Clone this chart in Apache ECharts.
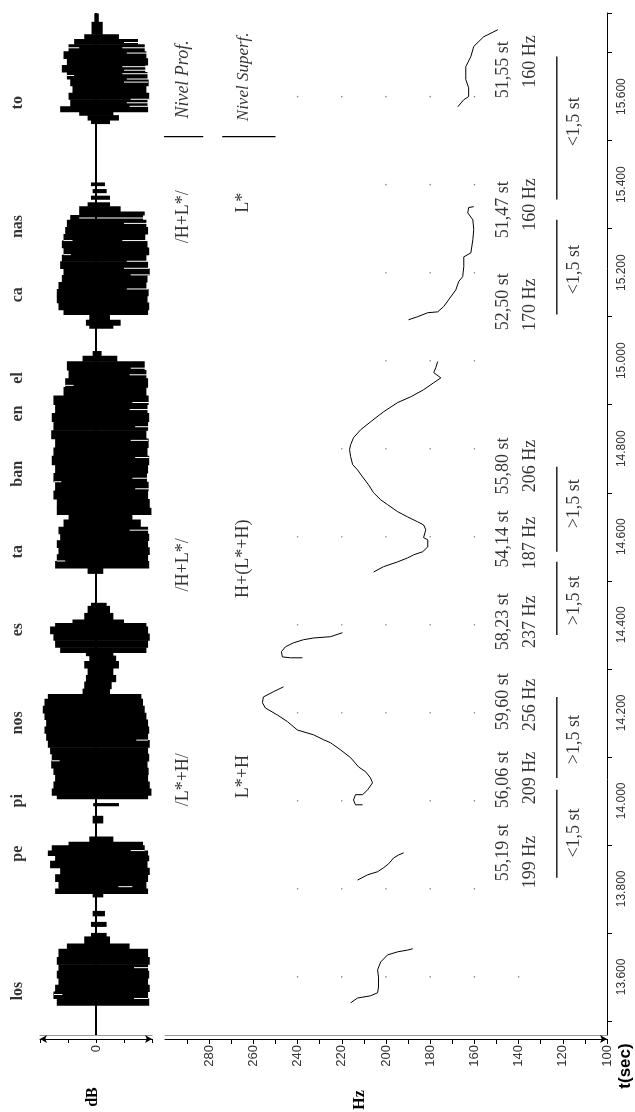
<!DOCTYPE html>
<html><head><meta charset="utf-8">
<script src="https://cdn.jsdelivr.net/npm/echarts@6.0.0/dist/echarts.min.js"></script>
<style>html,body{margin:0;padding:0;background:#fff}#c{width:635px;height:1112px}</style>
</head><body><div id="c"></div>
<script>
// ---------- axis values ----------
const timeLabelValues = [13.6, 13.8, 14.0, 14.2, 14.4, 14.6, 14.8, 15.0, 15.2, 15.4, 15.6];
const timeTickValues = [13.5, 13.7, 13.9, 14.1, 14.3, 14.5, 14.7, 14.9, 15.1, 15.3, 15.5, 15.7, 15.79];
const hzLabelValues = [100, 120, 140, 160, 180, 200, 220, 240, 260, 280];
const hzTickValues = [100, 110, 120, 130, 140, 150, 160, 170, 180, 190, 200, 210, 220, 230, 240, 250, 260, 270, 280, 290];
const ampTickValues = [-1, -0.5, 0, 0.5, 1];
const ampLabelValues = [0];

// ---------- syllables ----------
const syllables = ['los', 'pe', 'pi', 'nos', 'es', 'ta', 'ban', 'en', 'el', 'ca', 'nas', 'to'];
const syllableTimes = [13.568, 13.880, 14.000, 14.177, 14.389, 14.566, 14.743, 14.880, 14.961, 15.150, 15.305, 15.586];

// ---------- waveform envelope bands: [tStart, tEnd, low, high] ----------
const waveBands = [
  [15.770, 15.789, -0.03, 0.05], [15.742, 15.770, -0.08, 0.12],
  [15.731, 15.742, -0.21, 0.41], [15.719, 15.731, -0.39, 0.75],
  [15.703, 15.719, -0.49, 0.87], [15.687, 15.703, -0.58, 0.90], [15.672, 15.687, -0.52, 0.93],
  [15.656, 15.672, -0.61, 0.88], [15.640, 15.656, -0.52, 0.92], [15.625, 15.640, -0.46, 0.94],
  [15.609, 15.625, -0.42, 0.90], [15.594, 15.609, -0.49, 0.95], [15.578, 15.594, -0.46, 0.92],
  [15.566, 15.578, -0.64, 0.93], [15.558, 15.566, -0.30, 0.31], [15.547, 15.558, -0.15, 0.41],
  [15.539, 15.547, -0.09, 0.25],
  [15.398, 15.405, -0.09, 0.16], [15.382, 15.390, -0.06, 0.19], [15.367, 15.375, -0.09, 0.25],
  [15.351, 15.360, -0.15, 0.25], [15.339, 15.351, -0.30, 0.44],
  [15.331, 15.339, -0.30, 0.87], [15.320, 15.331, -0.46, 0.84], [15.304, 15.320, -0.52, 0.90],
  [15.288, 15.304, -0.55, 0.93], [15.273, 15.288, -0.58, 0.88], [15.257, 15.273, -0.61, 0.92],
  [15.241, 15.257, -0.58, 0.95], [15.226, 15.241, -0.61, 0.90], [15.210, 15.226, -0.64, 0.93],
  [15.195, 15.210, -0.58, 0.96], [15.179, 15.195, -0.61, 0.92], [15.163, 15.179, -0.67, 0.90],
  [15.148, 15.163, -0.70, 0.94], [15.132, 15.148, -0.70, 0.92], [15.116, 15.132, -0.67, 0.95],
  [15.105, 15.116, -0.58, 0.93], [15.093, 15.105, -0.12, 0.25], [15.081, 15.093, -0.18, 0.44],
  [15.074, 15.081, -0.12, 0.31],
  [15.011, 15.022, -0.06, 0.10], [14.999, 15.011, -0.24, 0.38],
  [14.979, 14.999, -0.52, 0.87], [14.960, 14.979, -0.49, 0.90], [14.940, 14.960, -0.55, 0.93],
  [14.921, 14.940, -0.58, 0.90], [14.901, 14.921, -0.76, 0.94], [14.881, 14.901, -0.73, 0.92],
  [14.862, 14.881, -0.79, 0.95], [14.842, 14.862, -0.76, 0.93], [14.823, 14.842, -0.80, 0.90],
  [14.803, 14.823, -0.73, 0.94], [14.784, 14.803, -0.76, 0.92], [14.764, 14.784, -0.79, 0.95],
  [14.745, 14.764, -0.73, 0.93], [14.725, 14.745, -0.76, 0.91], [14.705, 14.725, -0.73, 0.94],
  [14.686, 14.705, -0.76, 0.93], [14.666, 14.686, -0.70, 0.96], [14.651, 14.666, -0.70, 0.99],
  [14.639, 14.651, -0.49, 0.65],
  [14.623, 14.639, -0.58, 0.80], [14.607, 14.623, -0.67, 0.93], [14.592, 14.607, -0.64, 0.95],
  [14.576, 14.592, -0.70, 0.93], [14.560, 14.576, -0.67, 0.96], [14.545, 14.560, -0.70, 0.93],
  [14.529, 14.545, -0.73, 0.95], [14.517, 14.529, -0.15, 0.13],
  [14.443, 14.450, -0.09, 0.19], [14.427, 14.443, -0.15, 0.25], [14.412, 14.427, -0.21, 0.31],
  [14.404, 14.412, -0.42, 0.50],
  [14.396, 14.404, -0.73, 0.90], [14.380, 14.396, -0.82, 0.93], [14.365, 14.380, -0.76, 0.96],
  [14.349, 14.365, -0.73, 0.93], [14.337, 14.349, -0.64, 0.90],
  [14.330, 14.337, -0.18, 0.31], [14.318, 14.330, -0.12, 0.36], [14.302, 14.318, -0.21, 0.41],
  [14.286, 14.302, -0.15, 0.31], [14.271, 14.286, -0.18, 0.36], [14.255, 14.271, -0.21, 0.28],
  [14.243, 14.255, -0.24, 0.25],
  [14.232, 14.243, -0.86, 0.81], [14.216, 14.232, -0.92, 0.84], [14.200, 14.216, -0.95, 0.87],
  [14.185, 14.200, -0.92, 0.90], [14.169, 14.185, -0.89, 0.93], [14.154, 14.169, -0.92, 0.95],
  [14.138, 14.154, -0.89, 0.93], [14.122, 14.138, -0.86, 0.96], [14.107, 14.122, -0.82, 0.93],
  [14.091, 14.107, -0.79, 0.95], [14.075, 14.091, -0.80, 0.92], [14.060, 14.075, -0.76, 0.94],
  [14.044, 14.060, -0.73, 0.93], [14.028, 14.044, -0.76, 0.96], [14.013, 14.028, -0.79, 0.99],
  [14.005, 14.013, -0.70, 0.93], [13.989, 13.995, -0.05, 0.41],
  [13.950, 13.966, -0.06, 0.13], [13.907, 13.919, -0.12, 0.31], [13.899, 13.907, -0.49, 0.84],
  [13.887, 13.899, -0.79, 0.87], [13.876, 13.887, -0.86, 0.93], [13.864, 13.876, -0.73, 0.95],
  [13.848, 13.864, -0.82, 0.92], [13.833, 13.848, -0.64, 0.96], [13.817, 13.833, -0.73, 0.93],
  [13.801, 13.817, -0.67, 0.90], [13.790, 13.801, -0.73, 0.93], [13.782, 13.790, -0.06, 0.13],
  [13.739, 13.750, -0.06, 0.16], [13.715, 13.725, -0.09, 0.19], [13.692, 13.700, -0.09, 0.19],
  [13.676, 13.692, -0.21, 0.25], [13.664, 13.676, -0.52, 0.60],
  [13.645, 13.664, -0.67, 0.93], [13.629, 13.645, -0.70, 0.96], [13.614, 13.629, -0.67, 0.93],
  [13.598, 13.614, -0.70, 0.95], [13.582, 13.598, -0.67, 0.93], [13.567, 13.582, -0.73, 0.96],
  [13.551, 13.567, -0.76, 0.93], [13.536, 13.551, -0.70, 0.95]
];
// white sample gaps inside the waveform: [time, from, to]
const waveGaps = [
  [15.723, 0.50, 0.95], [15.711, 0.47, 0.93], [15.699, 0.55, 0.95], [15.668, 0.47, 0.95],
  [15.660, 0.50, 0.92], [15.652, 0.47, 0.93], [15.640, 0.55, 0.95], [15.633, 0.50, 0.93],
  [15.594, 0.62, 0.95], [15.586, 0.55, 0.95], [15.578, 0.60, 0.93],
  [15.711, -0.50, -0.30], [15.648, -0.52, -0.39],
  [15.324, -0.30, 0.87], [15.312, 0.50, 0.93], [15.273, 0.47, 0.93], [15.226, 0.55, 0.95],
  [15.210, 0.50, 0.95], [15.195, 0.62, 0.96], [15.163, 0.55, 0.93],
  [15.273, -0.58, -0.42], [15.241, -0.58, -0.45],
  [14.983, 0.62, 0.93], [14.968, 0.60, 0.93], [14.905, 0.65, 0.96], [14.889, 0.60, 0.96],
  [14.850, 0.70, 0.96], [14.819, 0.62, 0.93], [14.780, 0.70, 0.95], [14.733, 0.65, 0.95],
  [14.709, 0.70, 0.95], [14.944, -0.55, -0.40], [14.725, -0.75, -0.62],
  [14.615, 0.60, 0.93], [14.545, -0.70, -0.55],
  [14.091, -0.79, -0.65], [14.138, 0.72, 0.93],
  [13.887, 0.62, 0.87], [13.805, 0.40, 0.65],
  [13.621, 0.68, 0.93], [13.551, 0.68, 0.93], [13.560, -0.75, -0.60]
];

// ---------- F0 contours: [Hz, time] ----------
const f0Los = [[216.0,13.541],[212.9,13.552],[207.0,13.557],[203.8,13.564],[203.4,13.577],[203.4,13.600],[203.8,13.616],[202.4,13.634],[199.3,13.650],[194.7,13.657],[190.2,13.661],[187.9,13.664]];
const f0Pe = [[212.9,13.820],[208.3,13.832],[203.8,13.839],[201.1,13.848],[198.8,13.857],[196.6,13.870],[194.3,13.877],[192.0,13.882]];
const f0PiNos = [[210.6,13.991],[213.8,13.991],[214.7,14.002],[213.8,14.014],[210.6,14.014],[208.3,14.025],[206.1,14.041],[207.0,14.052],[209.2,14.066],[212.4,14.077],[216.0,14.098],[220.6,14.116],[225.1,14.132],[228.3,14.139],[232.8,14.150],[240.1,14.161],[244.6,14.180],[249.1,14.195],[254.6,14.211],[255.9,14.223],[255.5,14.236],[250.9,14.248],[246.4,14.259]];
const f0Es = [[237.8,14.325],[243.2,14.325],[246.9,14.327],[247.3,14.339],[245.5,14.350],[241.9,14.359],[237.4,14.366],[232.8,14.370],[225.1,14.373],[219.7,14.382]];
const f0TaBanEnEl = [[205.6,14.520],[201.1,14.532],[194.7,14.543],[190.2,14.552],[187.5,14.559],[183.4,14.566],[181.1,14.577],[181.1,14.593],[183.0,14.598],[182.0,14.616],[183.0,14.627],[185.7,14.634],[190.2,14.645],[194.7,14.657],[199.3,14.673],[202.4,14.684],[205.6,14.700],[207.9,14.718],[210.6,14.736],[212.9,14.752],[215.1,14.764],[216.0,14.782],[216.5,14.798],[216.0,14.809],[214.7,14.825],[211.5,14.843],[207.0,14.861],[201.1,14.884],[194.7,14.905],[188.8,14.918],[183.0,14.934],[178.4,14.950],[175.2,14.961],[178.4,14.973],[177.5,14.984],[176.6,14.998]];
const f0CaNas = [[189.8,15.093],[185.7,15.100],[181.1,15.109],[176.6,15.111],[173.9,15.123],[170.7,15.145],[168.4,15.161],[167.1,15.180],[165.3,15.191],[164.8,15.214],[164.8,15.236],[161.6,15.245],[160.7,15.275],[160.3,15.298],[160.7,15.320],[163.0,15.336],[162.6,15.348],[160.3,15.350]];
const f0To = [[167.5,15.577],[164.8,15.593],[162.6,15.600],[162.6,15.620],[163.9,15.639],[163.9,15.668],[161.6,15.691],[160.3,15.714],[155.8,15.736],[149.4,15.752]];

// ---------- grid dots: [time, Hz list] ----------
const gridDotRows = [
  [15.6, [160, 180, 200, 220, 240]], [15.4, [160, 180, 200]], [15.2, [160, 180, 200]],
  [15.0, [160, 180, 200]], [14.8, [160, 180, 200, 220]], [14.6, [160, 180, 200, 220, 240]],
  [14.4, [160, 180, 200, 220, 240]], [14.2, [160, 180, 200, 220, 240]], [14.0, [160, 180, 220, 240]],
  [13.8, [160, 180, 200, 220, 240]], [13.6, [140, 160, 180, 200, 220, 240]]
];

// ---------- annotations ----------
const stLabels = ['51,55 st', '51,47 st', '52,50 st', '55,80 st', '54,14 st', '58,23 st', '59,60 st', '56,06 st', '55,19 st'];
const stTimes = [15.661, 15.343, 15.134, 14.761, 14.595, 14.407, 14.225, 14.048, 13.882];
const hzValueLabels = ['160 Hz', '160 Hz', '170 Hz', '206 Hz', '187 Hz', '237 Hz', '256 Hz', '209 Hz', '199 Hz'];
const hzValueTimes = [15.680, 15.355, 15.127, 14.761, 14.586, 14.407, 14.218, 14.052, 13.861];
const diffLabels = ['<1,5 st', '<1,5 st', '>1,5 st', '>1,5 st', '>1,5 st', '<1,5 st'];
const diffTimes = [15.543, 15.207, 14.675, 14.455, 14.139, 13.927];
const spanLines = [[15.366, 15.691], [15.105, 15.320], [14.566, 14.759], [14.377, 14.543], [14.052, 14.236], [13.825, 14.025]];
const deepLabels = ['Nivel Prof.', '/H+L*/', '/H+L*/', '/L*+H/'];
const deepTimes = [15.639, 15.327, 14.536, 14.048];
const surfaceLabels = ['Nivel Superf.', 'L*', 'H+(L*+H)', 'L*+H'];
const surfaceTimes = [15.645, 15.359, 14.550, 14.055];
const tierSeparatorTime = 15.509;

// ---------- layout constants (positions, not data) ----------
const T_MIN = 13.468, T_MAX = 15.79;
const COL_DEEP = 291.7, COL_SURF = 264.4, COL_ST = 147.1, COL_HZ = 134.5, COL_LINE = 122.7, COL_DIFF = 115.0;
const SYL_AMP = -1.39;
const SERIF = "'Liberation Serif', 'Times New Roman', serif";
const SANS = "'Liberation Sans', Arial, sans-serif";

function textSeries(labels, times, col, font, style, grid) {
  return {
    type: 'scatter', xAxisIndex: grid === 0 ? 0 : 2, yAxisIndex: grid === 0 ? 0 : 1,
    symbolSize: 0, silent: true, clip: false, z: 10,
    data: labels.map((s, i) => ({ value: [col, times[i]], name: s })),
    label: { show: true, position: 'inside', rotate: 90, formatter: '{b}', color: '#000',
      fontFamily: font, fontSize: style.size, fontWeight: style.weight || 'normal', fontStyle: style.italic ? 'italic' : 'normal' }
  };
}

const series = [];
// waveform
series.push({
  type: 'custom', xAxisIndex: 0, yAxisIndex: 0, silent: true, clip: false,
  encode: { x: [2, 3], y: [0, 1] },
  data: waveBands,
  renderItem: function (params, api) {
    const p0 = api.coord([api.value(2), api.value(1)]);
    const p1 = api.coord([api.value(3), api.value(0)]);
    return { type: 'rect', shape: { x: p0[0], y: p0[1], width: p1[0] - p0[0], height: Math.max(1, p1[1] - p0[1] + 0.6) }, style: { fill: '#000' } };
  },
  markLine: { silent: true, symbol: 'none', label: { show: false }, lineStyle: { color: '#000', width: 2, type: 'solid' }, data: [{ xAxis: 0 }] }
});
series.push({
  type: 'custom', xAxisIndex: 0, yAxisIndex: 0, silent: true, z: 3,
  encode: { x: [1, 2], y: 0 },
  data: waveGaps,
  renderItem: function (params, api) {
    const p0 = api.coord([api.value(1), api.value(0)]);
    const p1 = api.coord([api.value(2), api.value(0)]);
    return { type: 'rect', shape: { x: p0[0], y: p0[1] - 0.5, width: p1[0] - p0[0], height: 1 }, style: { fill: '#fff' } };
  }
});
// F0 contours
[f0Los, f0Pe, f0PiNos, f0Es, f0TaBanEnEl, f0CaNas, f0To].forEach(c => series.push({
  type: 'line', xAxisIndex: 2, yAxisIndex: 1, data: c, symbol: 'none', silent: true,
  lineStyle: { color: '#000', width: 1 }
}));
// grid dots
const dots = [];
gridDotRows.forEach(r => r[1].forEach(h => dots.push([h, r[0]])));
series.push({ type: 'scatter', xAxisIndex: 2, yAxisIndex: 1, data: dots, symbolSize: 1.6, silent: true, itemStyle: { color: '#666' } });
// span lines
spanLines.forEach(s => series.push({
  type: 'line', xAxisIndex: 2, yAxisIndex: 1, data: [[COL_LINE, s[0]], [COL_LINE, s[1]]], symbol: 'none', silent: true,
  lineStyle: { color: '#000', width: 1.3 }
}));
// tier separators
series.push({ type: 'line', xAxisIndex: 2, yAxisIndex: 1, clip: false, data: [[300.8, tierSeparatorTime], [282.7, tierSeparatorTime]], symbol: 'none', silent: true, lineStyle: { color: '#000', width: 1.3 } });
series.push({ type: 'line', xAxisIndex: 2, yAxisIndex: 1, clip: false, data: [[274.1, tierSeparatorTime], [250.0, tierSeparatorTime]], symbol: 'none', silent: true, lineStyle: { color: '#000', width: 1.3 } });
// texts
series.push(textSeries(stLabels, stTimes, COL_ST, SERIF, { size: 18 }, 1));
series.push(textSeries(hzValueLabels, hzValueTimes, COL_HZ, SERIF, { size: 18 }, 1));
series.push(textSeries(diffLabels, diffTimes, COL_DIFF, SERIF, { size: 18 }, 1));
series.push(textSeries(deepLabels.slice(1), deepTimes.slice(1), COL_DEEP, SERIF, { size: 18 }, 1));
series.push(textSeries(surfaceLabels.slice(1), surfaceTimes.slice(1), COL_SURF, SERIF, { size: 18 }, 1));
series.push(textSeries(deepLabels.slice(0, 1), deepTimes.slice(0, 1), COL_DEEP, SERIF, { size: 18, italic: true }, 1));
series.push(textSeries(surfaceLabels.slice(0, 1), surfaceTimes.slice(0, 1), COL_SURF, SERIF, { size: 17, italic: true }, 1));
series.push(textSeries(syllables, syllableTimes, SYL_AMP, SERIF, { size: 16, weight: 'bold' }, 0));

const option = {
  animation: false,
  backgroundColor: '#fff',
  grid: [
    { left: 40, right: 483, top: 13, bottom: 77 },
    { left: 165, right: 28, top: 13, bottom: 77 }
  ],
  xAxis: [
    { gridIndex: 0, type: 'value', min: -1, max: 1, position: 'bottom', offset: 4,
      axisLine: { show: true, lineStyle: { color: '#000', width: 1 }, symbol: ['arrow', 'arrow'], symbolSize: [6, 7] },
      axisTick: { show: true, length: 4, lineStyle: { color: '#000' }, customValues: ampTickValues },
      axisLabel: { show: true, rotate: 90, margin: 6, customValues: ampLabelValues, fontSize: 13, color: '#333', fontFamily: SANS },
      splitLine: { show: false } },
    { gridIndex: 0, type: 'value', min: -1, max: 1, position: 'bottom', offset: 0,
      axisLine: { show: true, lineStyle: { color: '#999', width: 1 } }, axisTick: { show: false }, axisLabel: { show: false }, splitLine: { show: false } },
    { gridIndex: 1, type: 'value', min: 100, max: 300, inverse: true, position: 'bottom', offset: 4,
      axisLine: { show: true, lineStyle: { color: '#000', width: 1 }, symbol: ['none', 'arrow'], symbolSize: [6, 7] },
      axisTick: { show: true, length: 5, lineStyle: { color: '#000' }, customValues: hzTickValues },
      axisLabel: { show: true, rotate: 90, margin: 6, customValues: hzLabelValues, fontSize: 13, color: '#333', fontFamily: SANS },
      splitLine: { show: false } },
    { gridIndex: 1, type: 'value', min: 100, max: 300, inverse: true, position: 'bottom', offset: 0,
      axisLine: { show: true, lineStyle: { color: '#999', width: 1 } }, axisTick: { show: false }, axisLabel: { show: false }, splitLine: { show: false } }
  ],
  yAxis: [
    { gridIndex: 0, type: 'value', min: T_MIN, max: T_MAX, show: false },
    { gridIndex: 1, type: 'value', min: T_MIN, max: T_MAX, position: 'right',
      axisLine: { show: true, lineStyle: { color: '#000', width: 1 } },
      axisTick: { show: true, length: 5, lineStyle: { color: '#000' }, customValues: timeTickValues },
      axisLabel: { show: true, rotate: 90, margin: 9, customValues: timeLabelValues, fontSize: 12, color: '#333', fontFamily: SANS,
        formatter: v => v.toFixed(3) },
      splitLine: { show: false } }
  ],
  graphic: [
    { type: 'text', x: 93, y: 1097, rotation: Math.PI / 2, style: { text: 'dB', font: "bold 16px 'Liberation Serif', serif", fill: '#000', textAlign: 'center', textVerticalAlign: 'middle' } },
    { type: 'text', x: 360, y: 1100, rotation: Math.PI / 2, style: { text: 'Hz', font: "bold 16px 'Liberation Serif', serif", fill: '#000', textAlign: 'center', textVerticalAlign: 'middle' } },
    { type: 'text', x: 625, y: 1066, rotation: Math.PI / 2, style: { text: 't(sec)', font: "bold 17px 'Liberation Sans', Arial, sans-serif", fill: '#000', textAlign: 'center', textVerticalAlign: 'middle' } }
  ],
  series: series
};

const chart = echarts.init(document.getElementById('c'), null, { renderer: 'canvas' });
chart.setOption(option);
</script></body></html>
